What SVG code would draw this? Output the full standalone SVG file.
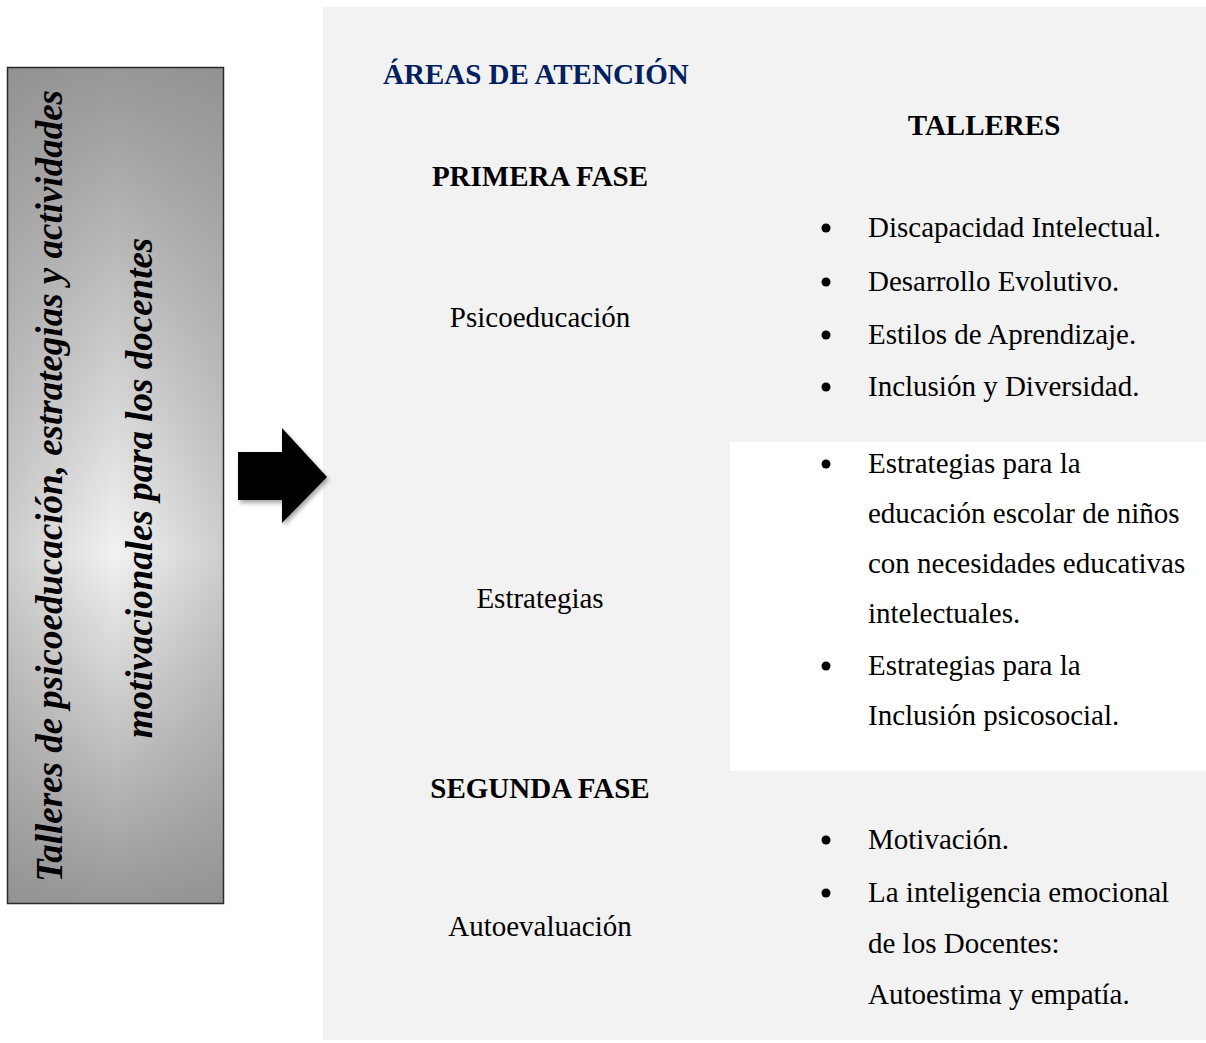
<svg xmlns="http://www.w3.org/2000/svg" width="1206" height="1043" viewBox="0 0 1206 1043">
  <defs>
    <linearGradient id="boxV" x1="0" y1="0" x2="0" y2="1">
      <stop offset="0" stop-color="#979797"/>
      <stop offset="0.58" stop-color="#f2f2f2"/>
      <stop offset="1" stop-color="#979797"/>
    </linearGradient>
    <linearGradient id="boxH" x1="0" y1="0" x2="1" y2="0">
      <stop offset="0" stop-color="#8a8a8a" stop-opacity="0.35"/>
      <stop offset="0.5" stop-color="#8a8a8a" stop-opacity="0"/>
      <stop offset="1" stop-color="#8a8a8a" stop-opacity="0.35"/>
    </linearGradient>
    <filter id="shadow" x="-20%" y="-20%" width="150%" height="150%">
      <feDropShadow dx="2" dy="3" stdDeviation="2" flood-color="#000" flood-opacity="0.35"/>
    </filter>
    <style>
      .serif { font-family: "Liberation Serif", "Times New Roman", serif; }
      .head { font-size: 29px; font-weight: bold; fill: #000; }
      .navy { fill: #002060; }
      .body { font-size: 29px; fill: #000; }
      .mid { text-anchor: middle; }
      .side { font-size: 37px; font-weight: bold; font-style: italic; fill: #000; text-anchor: middle; }
      .dot { fill: #000; }
    </style>
  </defs>

  <rect width="1206" height="1043" fill="#ffffff"/>

  <g id="panel">
    <rect x="323" y="7" width="883" height="1033" fill="#f2f2f2"/>
    <rect x="730" y="442" width="476" height="329" fill="#ffffff"/>
  </g>

  <g id="title-box">
    <rect x="7.5" y="67.5" width="216" height="836" fill="url(#boxV)"/>
    <rect x="7.5" y="67.5" width="216" height="836" fill="url(#boxH)" stroke="#2b2b2b" stroke-width="1.5"/>
    <text class="serif side" transform="translate(62,486) rotate(-90)">Talleres de psicoeducación, estrategias y actividades</text>
    <text class="serif side" transform="translate(152,488) rotate(-90)">motivacionales para los docentes</text>
  </g>

  <g id="connectors">
    <path d="M238,452 H282 V428 L327,477 L282,523 V500 H238 Z" fill="#000" filter="url(#shadow)"/>
  </g>

  <g id="header-areas">
    <text class="serif head navy" x="383" y="84">ÁREAS DE ATENCIÓN</text>
  </g>
  <g id="header-talleres">
    <text class="serif head mid" x="984" y="135">TALLERES</text>
  </g>

  <g id="fase1">
    <text class="serif head mid" x="540" y="186">PRIMERA FASE</text>
  </g>

  <g id="psicoeducacion">
    <text class="serif body mid" x="540" y="327">Psicoeducación</text>
  </g>
  <g id="talleres-psicoeducacion">
    <circle class="dot" cx="826" cy="228" r="4.5"/>
    <text class="serif body" x="868" y="237">Discapacidad Intelectual.</text>
    <circle class="dot" cx="826" cy="282" r="4.5"/>
    <text class="serif body" x="868" y="291">Desarrollo Evolutivo.</text>
    <circle class="dot" cx="826" cy="335" r="4.5"/>
    <text class="serif body" x="868" y="344">Estilos de Aprendizaje.</text>
    <circle class="dot" cx="826" cy="387" r="4.5"/>
    <text class="serif body" x="868" y="396">Inclusión y Diversidad.</text>
  </g>

  <g id="estrategias">
    <text class="serif body mid" x="540" y="608">Estrategias</text>
  </g>
  <g id="talleres-estrategias">
    <circle class="dot" cx="826" cy="464" r="4.5"/>
    <text class="serif body" x="868" y="473">Estrategias para la</text>
    <text class="serif body" x="868" y="523">educación escolar de niños</text>
    <text class="serif body" x="868" y="573">con necesidades educativas</text>
    <text class="serif body" x="868" y="623">intelectuales.</text>
    <circle class="dot" cx="826" cy="666" r="4.5"/>
    <text class="serif body" x="868" y="675">Estrategias para la</text>
    <text class="serif body" x="868" y="725">Inclusión psicosocial.</text>
  </g>

  <g id="fase2">
    <text class="serif head mid" x="540" y="798">SEGUNDA FASE</text>
  </g>

  <g id="autoevaluacion">
    <text class="serif body mid" x="540" y="936">Autoevaluación</text>
  </g>
  <g id="talleres-autoevaluacion">
    <circle class="dot" cx="826" cy="840" r="4.5"/>
    <text class="serif body" x="868" y="849">Motivación.</text>
    <circle class="dot" cx="826" cy="893" r="4.5"/>
    <text class="serif body" x="868" y="902">La inteligencia emocional</text>
    <text class="serif body" x="868" y="953">de los Docentes:</text>
    <text class="serif body" x="868" y="1004">Autoestima y empatía.</text>
  </g>
</svg>
